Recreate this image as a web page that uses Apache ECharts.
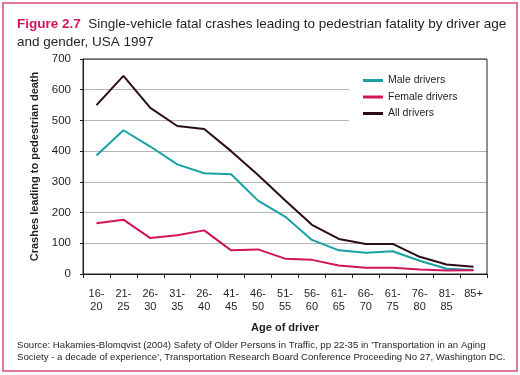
<!DOCTYPE html>
<html>
<head>
<meta charset="utf-8">
<script src="https://cdn.jsdelivr.net/npm/echarts@6/dist/echarts.min.js"></script>
<style>
  html, body { margin: 0; padding: 0; background: #fff; }
  #chart { width: 520px; height: 375px; }
</style>
</head>
<body>
<div id="chart"></div>
<script>
var ageGroups = ['16-\n20', '21-\n25', '26-\n30', '31-\n35', '26-\n40', '41-\n45', '46-\n50', '51-\n55',
  '56-\n60', '61-\n65', '66-\n70', '61-\n75', '76-\n80', '81-\n85', '85+'];
var maleDrivers = [386, 468, 415, 357, 328, 325, 239, 187, 111, 77, 69, 74, 43, 17, 13];
var femaleDrivers = [165, 177, 117, 126, 142, 77, 80, 50, 46, 28, 20, 20, 15, 11, 12];
var allDrivers = [550, 645, 541, 482, 472, 400, 322, 240, 160, 114, 98, 98, 56, 31, 24];

var fontFamily = '"Liberation Sans", Arial, sans-serif';
var chart = echarts.init(document.getElementById('chart'));

var option = {
  backgroundColor: '#fff',
  textStyle: { fontFamily: fontFamily },
  title: [
    {
      text: '{fig|Figure 2.7}  Single-vehicle fatal crashes leading to pedestrian fatality by driver age\nand gender, USA 1997',
      left: 17,
      top: 15,
      padding: 0,
      textStyle: {
        fontSize: 13.5,
        fontWeight: 'normal',
        color: '#231f20',
        lineHeight: 18,
        rich: {
          fig: { fontSize: 13.5, fontWeight: 'bold', color: '#d4145a' }
        }
      }
    },
    {
      text: 'Source: Hakamies-Blomqvist (2004) Safety of Older Persons in Traffic, pp 22-35 in \'Transportation in an Aging\nSociety - a decade of experience\', Transportation Research Board Conference Proceeding No 27, Washington DC.',
      left: 17,
      top: 340,
      padding: 0,
      textStyle: { fontSize: 9.65, fontWeight: 'normal', color: '#231f20', lineHeight: 11.5 }
    }
  ],
  graphic: [
    {
      type: 'rect',
      shape: { x: 3, y: 3, width: 514, height: 368 },
      style: { fill: null, stroke: '#d9487c', lineWidth: 1.5 },
      silent: true
    }
  ],
  legend: {
    left: 349,
    top: 64,
    orient: 'vertical',
    backgroundColor: '#fff',
    padding: [11, 34, 16, 14],
    itemWidth: 20,
    itemHeight: 3,
    itemGap: 5.5,
    icon: 'rect',
    textStyle: { fontSize: 10.5, color: '#231f20' },
    data: ['Male drivers', 'Female drivers', 'All drivers']
  },
  grid: {
    left: 83,
    right: 33,
    top: 59,
    bottom: 101,
    show: true,
    backgroundColor: 'transparent',
    borderColor: '#231f20',
    borderWidth: 1,
    z: 10
  },
  xAxis: {
    type: 'category',
    data: ageGroups,
    boundaryGap: true,
    name: 'Age of driver',
    nameLocation: 'middle',
    nameGap: 48,
    nameTextStyle: { fontSize: 11, fontWeight: 'bold', color: '#231f20' },
    axisLine: { lineStyle: { color: '#231f20' } },
    axisTick: { show: true, length: 4, lineStyle: { color: '#231f20' } },
    axisLabel: { fontSize: 11, color: '#231f20', lineHeight: 13, margin: 13, interval: 0 },
    splitLine: { show: false }
  },
  yAxis: {
    type: 'value',
    min: 0,
    max: 700,
    interval: 100,
    name: 'Crashes leading to pedestrian death',
    nameLocation: 'middle',
    nameGap: 43,
    nameTextStyle: { fontSize: 11, fontWeight: 'bold', color: '#231f20' },
    axisLine: { show: true, lineStyle: { color: '#231f20' } },
    axisTick: { show: true, length: 3, lineStyle: { color: '#231f20' } },
    axisLabel: { fontSize: 11.5, color: '#231f20', margin: 12 },
    splitLine: { show: true, lineStyle: { color: '#b5b5b5', width: 1 } }
  },
  series: [
    {
      name: 'Male drivers',
      type: 'line',
      data: maleDrivers,
      symbol: 'none',
      z: 5,
      lineStyle: { color: '#17a1a5', width: 2 },
      itemStyle: { color: '#17a1a5' }
    },
    {
      name: 'Female drivers',
      type: 'line',
      data: femaleDrivers,
      symbol: 'none',
      z: 5,
      lineStyle: { color: '#d4145a', width: 2 },
      itemStyle: { color: '#d4145a' }
    },
    {
      name: 'All drivers',
      type: 'line',
      data: allDrivers,
      symbol: 'none',
      z: 5,
      lineStyle: { color: '#2b0d18', width: 2 },
      itemStyle: { color: '#2b0d18' }
    }
  ],
  animation: false
};

chart.setOption(option);
</script>
</body>
</html>
